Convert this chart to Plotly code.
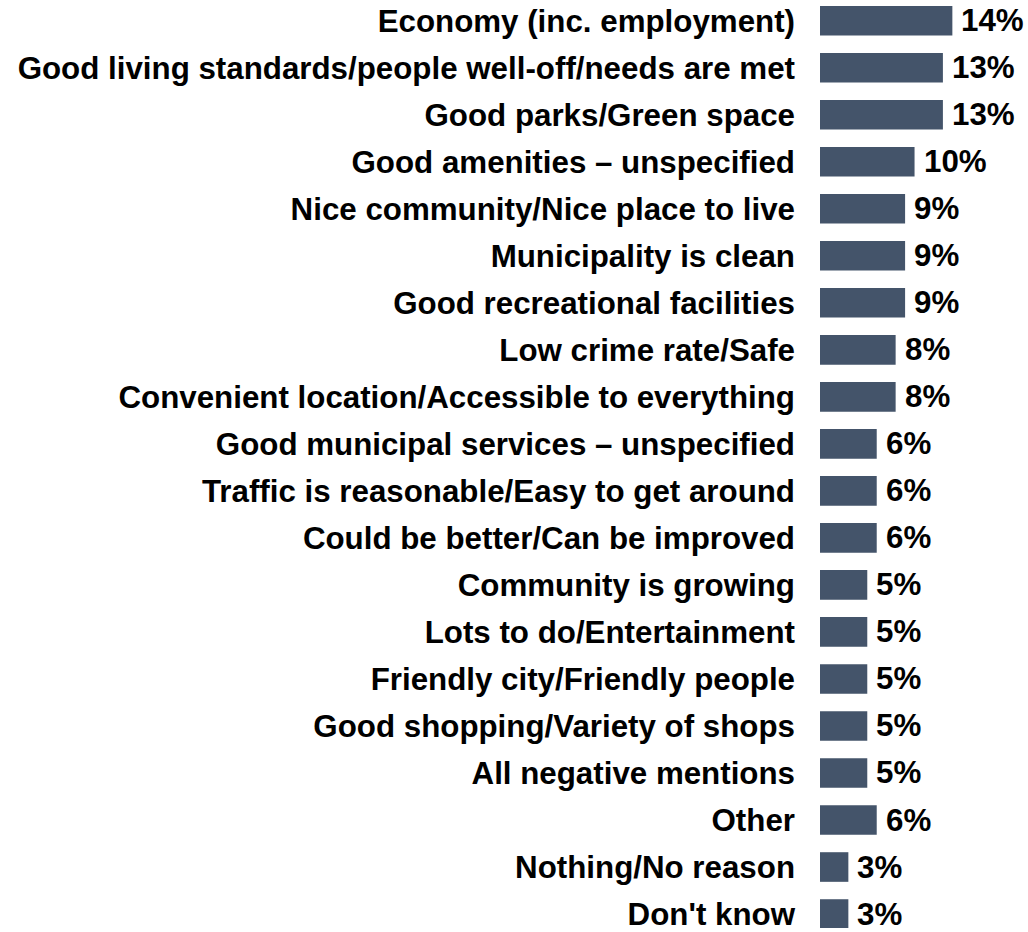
import plotly.graph_objects as go

categories = [
    "Economy (inc. employment)",
    "Good living standards/people well-off/needs are met",
    "Good parks/Green space",
    "Good amenities – unspecified",
    "Nice community/Nice place to live",
    "Municipality is clean",
    "Good recreational facilities",
    "Low crime rate/Safe",
    "Convenient location/Accessible to everything",
    "Good municipal services – unspecified",
    "Traffic is reasonable/Easy to get around",
    "Could be better/Can be improved",
    "Community is growing",
    "Lots to do/Entertainment",
    "Friendly city/Friendly people",
    "Good shopping/Variety of shops",
    "All negative mentions",
    "Other",
    "Nothing/No reason",
    "Don't know",
]
values = [14, 13, 13, 10, 9, 9, 9, 8, 8, 6, 6, 6, 5, 5, 5, 5, 5, 6, 3, 3]
labels = [f"{v}%" for v in values]

FONT = "Liberation Sans"
FS = 31.3
BAR = "#44546A"

fig = go.Figure(go.Bar(
    x=values, y=categories, orientation="h",
    marker=dict(color=BAR, line=dict(width=0)),
    width=0.63, hoverinfo="skip",
))

for c, v, t in zip(categories, values, labels):
    fig.add_annotation(x=v, y=c, text=f"<b>{t}</b>", showarrow=False,
                       xanchor="left", yanchor="middle", xshift=7,
                       font=dict(family=FONT, size=FS, color="#000000"))

fig.update_layout(
    width=1028, height=932,
    margin=dict(l=820, r=0, t=0, b=0),
    plot_bgcolor="white", paper_bgcolor="white",
    showlegend=False,
    font=dict(family=FONT, size=FS, color="#000000"),
    xaxis=dict(range=[0, 22], visible=False, fixedrange=True),
    yaxis=dict(
        type="category", range=[19.297, -0.4405],
        tickmode="array", tickvals=categories,
        ticktext=[f"<b>{c}</b>" for c in categories],
        showgrid=False, zeroline=False, showline=False, ticks="",
        ticklabelstandoff=24,
        tickfont=dict(family=FONT, size=FS, color="#000000"),
    ),
)

fig.write_html(
    "out.html",
    config={"displayModeBar": False},
    post_script="document.body.style.margin='0';document.body.style.overflow='hidden';",
)
